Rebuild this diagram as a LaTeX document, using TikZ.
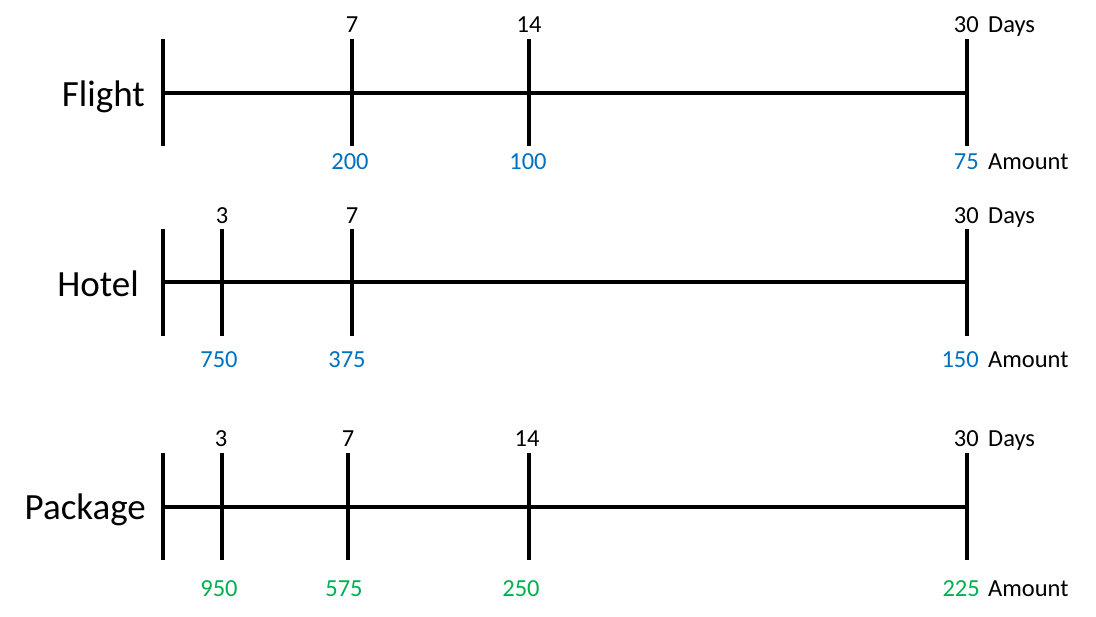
\documentclass[tikz,border=0pt]{standalone}
\usepackage{fontspec}
\setmainfont{Carlito}
\definecolor{amtblue}{HTML}{0070C0}
\definecolor{amtgreen}{HTML}{00B050}
\begin{document}
\begin{tikzpicture}[x=1pt,y=-1pt,
  axis/.style={line width=3.2pt},
  tick/.style={line width=3.2pt},
  title/.style={inner sep=0pt,anchor=base east,font=\fontsize{37}{40}\selectfont},
  lab/.style={inner sep=0pt,anchor=base,font=\fontsize{24.5}{27}\selectfont},
  labr/.style={lab,anchor=base east},
  labl/.style={lab,anchor=base west},
  blueamt/.style={text=amtblue},
  greenamt/.style={text=amtgreen}]
\useasboundingbox (0,0) rectangle (1096,617);

% ---------------- Flight
\node[title] (tf) at (145,107) {Flight};
\coordinate (f0t) at (163,39); \coordinate (f0b) at (163,146);
\coordinate (f1t) at (352,39); \coordinate (f1b) at (352,146);
\coordinate (f2t) at (529,39); \coordinate (f2b) at (529,146);
\coordinate (f3t) at (967,39); \coordinate (f3b) at (967,146);
\coordinate (fl) at (163,93); \coordinate (fr) at (967,93);
\draw[axis] (fl) -- (fr);
\draw[tick] (f0t) -- (f0b);
\draw[tick] (f1t) -- (f1b);
\draw[tick] (f2t) -- (f2b);
\draw[tick] (f3t) -- (f3b);
\node[lab] (fd1) at (352,33) {7};
\node[lab] (fd2) at (529,33) {14};
\node[labr] (fd3) at (979,33) {30};
\node[labl] (fdays) at (988,33) {Days};
\node[lab,blueamt] (fa1) at (350,170) {200};
\node[lab,blueamt] (fa2) at (528,170) {100};
\node[labr,blueamt] (fa3) at (979,170) {75};
\node[labl] (famt) at (988,170) {Amount};

% ---------------- Hotel
\node[title] (th) at (139,297) {Hotel};
\coordinate (h0t) at (163,229); \coordinate (h0b) at (163,336);
\coordinate (h1t) at (222,229); \coordinate (h1b) at (222,336);
\coordinate (h2t) at (352,229); \coordinate (h2b) at (352,336);
\coordinate (h3t) at (967,229); \coordinate (h3b) at (967,336);
\coordinate (hl) at (163,282); \coordinate (hr) at (967,282);
\draw[axis] (hl) -- (hr);
\draw[tick] (h0t) -- (h0b);
\draw[tick] (h1t) -- (h1b);
\draw[tick] (h2t) -- (h2b);
\draw[tick] (h3t) -- (h3b);
\node[lab] (hd1) at (222,224) {3};
\node[lab] (hd2) at (352,224) {7};
\node[labr] (hd3) at (979,224) {30};
\node[labl] (hdays) at (988,224) {Days};
\node[lab,blueamt] (ha1) at (219,368) {750};
\node[lab,blueamt] (ha2) at (347,368) {375};
\node[labr,blueamt] (ha3) at (979,368) {150};
\node[labl] (hamt) at (988,368) {Amount};

% ---------------- Package
\node[title] (tp) at (146,520) {Package};
\coordinate (p0t) at (163,453); \coordinate (p0b) at (163,560);
\coordinate (p1t) at (222,453); \coordinate (p1b) at (222,560);
\coordinate (p2t) at (348,453); \coordinate (p2b) at (348,560);
\coordinate (p3t) at (529,453); \coordinate (p3b) at (529,560);
\coordinate (p4t) at (967,453); \coordinate (p4b) at (967,560);
\coordinate (pl) at (163,507); \coordinate (pr) at (967,507);
\draw[axis] (pl) -- (pr);
\draw[tick] (p0t) -- (p0b);
\draw[tick] (p1t) -- (p1b);
\draw[tick] (p2t) -- (p2b);
\draw[tick] (p3t) -- (p3b);
\draw[tick] (p4t) -- (p4b);
\node[lab] (pd1) at (221,447) {3};
\node[lab] (pd2) at (348,447) {7};
\node[lab] (pd3) at (527,447) {14};
\node[labr] (pd4) at (979,447) {30};
\node[labl] (pdays) at (988,447) {Days};
\node[lab,greenamt] (pa1) at (219,596) {950};
\node[lab,greenamt] (pa2) at (344,596) {575};
\node[lab,greenamt] (pa3) at (521,596) {250};
\node[labr,greenamt] (pa4) at (980,596) {225};
\node[labl] (pamt) at (988,596) {Amount};
\end{tikzpicture}
\end{document}
